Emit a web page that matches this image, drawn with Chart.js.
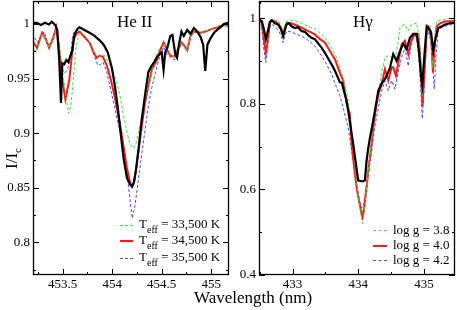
<!DOCTYPE html>
<html><head><meta charset="utf-8">
<script src="https://cdn.jsdelivr.net/npm/chart.js@4"></script>
<style>
html,body{margin:0;padding:0;background:#fff;}
body{width:457px;height:310px;position:relative;overflow:hidden;font-family:"Liberation Serif","Times New Roman",serif;color:#000;}
canvas{position:absolute;top:0;}
.t{position:absolute;white-space:nowrap;line-height:17px;}
.sub{font-size:10px;position:relative;top:5px;}
.smp{position:absolute;height:0;}
</style>
</head><body>
<canvas id="c1" width="232" height="310" style="left:0"></canvas>
<canvas id="c2" width="225" height="310" style="left:232px"></canvas>
<div class="t" style="left:117px;top:13px;font-size:17px">He II</div>
<div class="t" style="left:353px;top:13px;font-size:17px">Hγ</div>
<div class="t" style="left:194px;top:289px;font-size:17px">Wavelength (nm)</div>
<div class="t" style="left:-4px;top:146px;font-size:17px;transform:rotate(-90deg);transform-origin:15px 8px;width:30px;">I/I<span class="sub" style="font-size:11px;top:4px">c</span></div>
<div id="legends"></div>
<script>
// ---------- He II panel (left) ----------
const heTicksX = [453.5, 454, 454.5, 455];
const heTickLabelsX = ['453.5', '454', '454.5', '455'];
const heMinorX = [453.25, 453.75, 454.25, 454.75];
const heTicksY = [0.8, 0.85, 0.9, 0.95, 1];
const heTickLabelsY = ['0.8', '0.85', '0.9', '0.95', '1'];
const heMinorY = [0.775, 0.825, 0.875, 0.925, 0.975];

const heObsWave = [453.19,453.24,453.28,453.32,453.36,453.39,453.425,453.445,453.465,453.483,453.496,453.516,453.537,453.557,453.578,453.598,453.618,453.649,453.669,453.72,453.771,453.822,453.873,453.914,453.955,453.996,454.026,454.057,454.088,454.118,454.149,454.18,454.203,454.22,454.24,454.264,454.298,454.332,454.366,454.394,454.424,454.455,454.485,454.50,454.519,454.536,454.557,454.587,454.608,454.623,454.638,454.655,454.674,454.70,454.723,454.758,454.791,454.825,454.86,454.893,454.919,454.94,454.962,454.995,455.03,455.064,455.097,455.128,455.166,455.19];
const heObsFlux = [1.001,1.001,0.999,1.001,0.9995,1.002,0.999,0.9945,0.967,0.9276,0.964,0.963,0.967,0.965,0.971,0.976,0.99,0.9955,0.997,0.9945,0.992,0.989,0.985,0.981,0.974,0.96,0.944,0.923,0.898,0.875,0.859,0.853,0.851,0.855,0.866,0.884,0.912,0.935,0.956,0.961,0.965,0.97,0.973,0.974,0.958,0.974,0.978,0.989,0.99,0.981,0.972,0.969,0.981,0.993,0.989,0.9945,0.991,0.9963,0.993,0.988,0.981,0.957,0.981,0.987,0.992,0.995,0.997,1.0,1.001,1.0];

const he34Wave = [453.19,453.241,453.292,453.323,453.363,453.404,453.435,453.465,453.496,453.527,453.567,453.588,453.608,453.639,453.669,453.72,453.771,453.812,453.843,453.873,453.904,453.945,453.986,454.026,454.077,454.118,454.149,454.18,454.197,454.22,454.24,454.264,454.297,454.332,454.368,454.401,454.452,454.485,454.519,454.557,454.587,454.628,454.659,454.70,454.73,454.758,454.791,454.825,454.893,454.944,454.995,455.064,455.118,455.19];
const he34Flux = [0.985,0.978,0.992,0.987,0.978,0.987,0.997,0.976,0.949,0.931,0.949,0.967,0.985,0.991,0.993,0.988,0.983,0.974,0.969,0.971,0.97,0.962,0.949,0.933,0.909,0.886,0.868,0.855,0.851,0.855,0.866,0.882,0.905,0.928,0.944,0.958,0.967,0.976,0.983,0.976,0.971,0.97,0.976,0.983,0.98,0.976,0.989,0.993,0.992,0.993,0.995,0.997,0.999,0.998];

const he33Wave = [453.19,453.221,453.251,453.292,453.323,453.363,453.404,453.435,453.465,453.496,453.534,453.56,453.583,453.601,453.618,453.635,453.659,453.69,453.741,453.792,453.822,453.853,453.884,453.914,453.955,453.996,454.044,454.077,454.111,454.149,454.18,454.213,454.24,454.264,454.315,454.348,454.384,454.419,454.452,454.485,454.519,454.557,454.587,454.628,454.659,454.70,454.758,454.791,454.825,454.893,454.995,455.118,455.19];
const he33Flux = [0.981,0.974,0.978,0.991,0.987,0.978,0.987,0.996,0.98,0.958,0.933,0.918,0.925,0.942,0.962,0.978,0.99,0.992,0.987,0.981,0.973,0.97,0.971,0.972,0.965,0.96,0.947,0.935,0.918,0.901,0.89,0.886,0.89,0.901,0.921,0.937,0.949,0.962,0.973,0.979,0.982,0.976,0.972,0.97,0.976,0.983,0.976,0.989,0.993,0.992,0.995,0.999,0.998];

const he35Wave = [453.19,453.244,453.282,453.312,453.363,453.394,453.432,453.455,453.48,453.499,453.521,453.547,453.567,453.585,453.601,453.629,453.669,453.72,453.771,453.812,453.856,453.884,453.907,453.945,453.975,454.009,454.057,454.111,454.149,454.18,454.203,454.231,454.264,454.297,454.332,454.368,454.401,454.452,454.485,454.519,454.557,454.587,454.628,454.659,454.70,454.758,454.791,454.825,454.893,454.995,455.118,455.19];
const he35Flux = [0.991,0.983,0.989,0.993,0.979,0.987,0.996,0.985,0.967,0.958,0.955,0.958,0.965,0.976,0.99,0.9945,0.9935,0.989,0.983,0.972,0.962,0.963,0.965,0.956,0.944,0.93,0.91,0.889,0.864,0.839,0.822,0.834,0.857,0.88,0.903,0.926,0.942,0.961,0.972,0.979,0.972,0.969,0.967,0.974,0.982,0.975,0.988,0.993,0.992,0.995,0.999,0.998];

// ---------- H gamma panel (right) ----------
const hgTicksX = [433, 434, 435];
const hgTickLabelsX = ['433', '434', '435'];
const hgMinorX = [432.5, 433.5, 434.5];
const hgTicksY = [0.4, 0.6, 0.8, 1];
const hgTickLabelsY = ['0.4', '0.6', '0.8', '1'];
const hgMinorY = [0.5, 0.7, 0.9];

const hgObsWave = [432.49,432.533,432.563,432.594,432.624,432.655,432.685,432.73,432.78,432.822,432.857,432.883,432.909,432.944,432.985,433.035,433.081,433.137,433.187,433.233,433.289,433.339,433.385,433.441,433.492,433.537,433.594,433.644,433.69,433.72,433.75,433.781,433.822,433.846,433.887,433.922,433.963,433.998,434.04,434.07,434.1,434.126,434.15,434.177,434.215,434.253,434.303,434.355,434.405,434.45,434.481,434.531,434.583,434.633,434.683,434.735,434.785,434.836,434.887,434.922,434.953,434.973,434.998,435.04,435.064,435.105,435.14,435.166,435.216,435.272,435.318,435.394,435.47];
const hgObsFlux = [0.997,0.993,0.975,0.951,0.969,0.991,0.995,0.988,0.985,0.975,0.958,0.972,0.985,0.988,0.981,0.977,0.979,0.97,0.968,0.961,0.954,0.951,0.942,0.931,0.919,0.907,0.892,0.877,0.861,0.85,0.849,0.83,0.807,0.784,0.742,0.707,0.66,0.621,0.619,0.619,0.621,0.667,0.695,0.721,0.751,0.784,0.83,0.847,0.858,0.872,0.884,0.916,0.9,0.923,0.94,0.928,0.954,0.963,0.963,0.923,0.865,0.844,0.9,0.981,0.978,0.968,0.923,0.947,0.977,0.981,0.985,0.988,0.989];

const hg40Wave = [432.49,432.533,432.563,432.594,432.624,432.655,432.685,432.745,432.791,432.83,432.857,432.883,432.913,432.974,433.05,433.137,433.233,433.339,433.416,433.492,433.568,433.644,433.72,433.77,433.822,433.872,433.898,433.933,433.974,434.009,434.04,434.062,434.085,434.126,434.161,434.202,434.237,434.279,434.314,434.355,434.405,434.455,434.507,434.531,434.572,434.618,434.659,434.709,434.76,434.793,434.836,434.912,434.945,434.976,435.006,435.04,435.064,435.105,435.135,435.166,435.192,435.242,435.318,435.47];
const hg40Flux = [0.997,0.988,0.951,0.919,0.951,0.988,0.995,0.991,0.986,0.975,0.962,0.977,0.989,0.988,0.984,0.978,0.97,0.962,0.951,0.943,0.923,0.904,0.872,0.854,0.8,0.777,0.706,0.656,0.605,0.574,0.551,0.536,0.551,0.605,0.656,0.706,0.756,0.8,0.826,0.846,0.881,0.854,0.885,0.885,0.865,0.905,0.939,0.947,0.916,0.942,0.958,0.962,0.9,0.795,0.876,0.97,0.978,0.958,0.873,0.947,0.981,0.988,0.992,0.993];

const hg38Wave = [432.49,432.533,432.563,432.594,432.624,432.655,432.685,432.745,432.791,432.83,432.857,432.883,432.913,432.974,433.05,433.137,433.233,433.339,433.441,433.507,433.594,433.659,433.72,433.781,433.846,433.887,433.933,433.979,434.017,434.047,434.065,434.085,434.123,434.161,434.202,434.245,434.29,434.355,434.405,434.455,434.507,434.557,434.603,434.633,434.68,434.709,434.754,434.8,434.887,434.93,434.973,435.006,435.055,435.09,435.131,435.158,435.192,435.318,435.47];
const hg38Flux = [0.997,0.991,0.963,0.939,0.963,0.993,0.998,0.995,0.993,0.981,0.97,0.984,0.993,0.995,0.993,0.988,0.981,0.975,0.962,0.951,0.931,0.912,0.885,0.854,0.807,0.749,0.679,0.609,0.563,0.533,0.52,0.54,0.598,0.656,0.714,0.772,0.816,0.872,0.908,0.912,0.909,0.904,0.942,0.978,0.984,0.985,0.97,0.984,0.989,0.947,0.819,0.912,0.985,0.984,0.885,0.947,0.993,0.997,1.0];

const hg42Wave = [432.49,432.533,432.563,432.594,432.624,432.655,432.685,432.745,432.791,432.83,432.857,432.883,432.913,432.974,433.05,433.137,433.233,433.339,433.441,433.507,433.594,433.659,433.72,433.781,433.846,433.887,433.933,433.979,434.017,434.05,434.078,434.116,434.161,434.207,434.253,434.298,434.355,434.405,434.455,434.507,434.557,434.603,434.659,434.709,434.76,434.8,434.836,434.887,434.93,434.973,435.006,435.04,435.064,435.105,435.155,435.181,435.216,435.318,435.47];
const hg42Flux = [0.989,0.975,0.928,0.896,0.935,0.979,0.985,0.979,0.97,0.956,0.943,0.958,0.97,0.968,0.963,0.958,0.949,0.935,0.912,0.895,0.869,0.842,0.819,0.784,0.745,0.702,0.656,0.609,0.574,0.556,0.563,0.598,0.644,0.695,0.749,0.784,0.83,0.854,0.83,0.854,0.834,0.872,0.908,0.931,0.888,0.935,0.954,0.958,0.888,0.765,0.854,0.958,0.966,0.947,0.834,0.912,0.974,0.981,0.987];

const heLegend = ['33,500', '34,500', '35,500'];
const hgLegend = ['3.8', '4.0', '4.2'];

const COL_GREEN = '#3ce43c', COL_RED = '#ff1a1a', COL_BLUE = '#4646ff';

function pts(w, f) { const n = Math.min(w.length, f.length); const o = []; for (let i = 0; i < n; i++) o.push({x: w[i], y: f[i]}); return o; }
function ds(w, f, color, width, dash) {
  return {data: pts(w, f), borderColor: color, borderWidth: width, borderDash: dash || [], showLine: true, pointRadius: 0, tension: 0, fill: false};
}

const framePlugin = {
  id: 'frame',
  afterDatasetsDraw(chart, args, o) {
    const {ctx, chartArea: a} = chart; const sx = chart.scales.x, sy = chart.scales.y;
    ctx.save(); ctx.strokeStyle = '#000'; ctx.lineWidth = 1; ctx.beginPath();
    const tx = (vals, len) => vals.forEach(v => { const p = Math.round(sx.getPixelForValue(v)) + 0.5; ctx.moveTo(p, a.bottom); ctx.lineTo(p, a.bottom - len); ctx.moveTo(p, a.top); ctx.lineTo(p, a.top + len); });
    const ty = (vals, len) => vals.forEach(v => { const p = Math.round(sy.getPixelForValue(v)) + 0.5; ctx.moveTo(a.left, p); ctx.lineTo(a.left + len, p); ctx.moveTo(a.right, p); ctx.lineTo(a.right - len, p); });
    tx(o.majX, 6); tx(o.minX, 3); ty(o.majY, 6); ty(o.minY, 3);
    ctx.stroke();
    ctx.lineWidth = 1.3;
    ctx.strokeRect(Math.round(a.left) + 0.5, Math.round(a.top) + 0.5, Math.round(a.right - a.left) - 1, Math.round(a.bottom - a.top) - 1);
    ctx.restore();
  }
};

const tickFont = {family: '"Liberation Serif", "Times New Roman", serif', size: 13};

function makeChart(id, datasets, xr, yr, tX, lX, mX, tY, lY, mY, yWidth, padRight) {
  return new Chart(document.getElementById(id), {
    type: 'scatter',
    data: {datasets},
    plugins: [framePlugin],
    options: {
      responsive: false, animation: false, devicePixelRatio: 1,
      layout: {padding: {top: 1, right: padRight, left: 0, bottom: 0}},
      plugins: {legend: {display: false}, tooltip: {enabled: false}, frame: {majX: tX, minX: mX, majY: tY, minY: mY}},
      scales: {
        x: {type: 'linear', min: xr[0], max: xr[1],
          afterBuildTicks: s => { s.ticks = tX.map(v => ({value: v})); },
          afterFit: s => { s.height = 35; s.paddingLeft = 0; s.paddingRight = 0; },
          ticks: {callback: (v, i) => lX[i], font: tickFont, color: '#000', padding: 2, maxRotation: 0, autoSkip: false},
          grid: {display: false, drawTicks: false}, border: {display: false}},
        y: {type: 'linear', min: yr[0], max: yr[1],
          afterBuildTicks: s => { s.ticks = tY.map(v => ({value: v})); },
          afterFit: s => { s.width = yWidth; s.paddingTop = 0; s.paddingBottom = 0; },
          ticks: {callback: (v, i) => lY[i], font: tickFont, color: '#000', padding: 3, autoSkip: false},
          grid: {display: false, drawTicks: false}, border: {display: false}}
      }
    }
  });
}

makeChart('c1', [
  ds(heObsWave, heObsFlux, '#000', 2.2),
  ds(he33Wave, he33Flux, COL_GREEN, 1, [3, 2]),
  ds(he34Wave, he34Flux, COL_RED, 2),
  ds(he35Wave, he35Flux, COL_BLUE, 1, [3, 2])
], [453.2, 455.18], [0.77, 1.021], heTicksX, heTickLabelsX, heMinorX, heTicksY, heTickLabelsY, heMinorY, 33, 3);

makeChart('c2', [
  ds(hgObsWave, hgObsFlux, '#000', 2.2),
  ds(hg38Wave, hg38Flux, COL_GREEN, 1, [3, 2]),
  ds(hg40Wave, hg40Flux, COL_RED, 2),
  ds(hg42Wave, hg42Flux, COL_BLUE, 1, [3, 2])
], [432.49, 435.47], [0.4, 1.04], hgTicksX, hgTickLabelsX, hgMinorX, hgTicksY, hgTickLabelsY, hgMinorY, 27, 2);

// legends
const L = document.getElementById('legends');
const styles = [
  {c: COL_GREEN, w: 1, dash: true}, {c: COL_RED, w: 2, dash: false}, {c: COL_BLUE, w: 1, dash: true}
];
function sample(x, y, w, s) {
  const d = document.createElement('div'); d.className = 'smp';
  d.style.left = x + 'px'; d.style.width = w + 'px';
  d.style.top = (y - s.w / 2) + 'px';
  d.style.borderTop = s.w + 'px ' + (s.dash ? 'dashed ' : 'solid ') + s.c;
  L.appendChild(d);
}
function text(x, baseline, html) {
  const d = document.createElement('div'); d.className = 't';
  d.style.fontSize = '13px'; d.style.lineHeight = '13px';
  d.style.left = x + 'px'; d.style.top = (baseline - 10.9) + 'px';
  d.innerHTML = html; L.appendChild(d);
}
const heSampleY = [225.7, 241, 258.5], heBase = [227.5, 244, 261];
heLegend.forEach((t, i) => { sample(120, heSampleY[i], 13, styles[i]); text(139, heBase[i], 'T<span class="sub">eff</span> = ' + t + ' K'); });
const hgSampleY = [230, 245.5, 260], hgBase = [233.5, 248.7, 264];
hgLegend.forEach((t, i) => { sample(373, hgSampleY[i], 14, styles[i]); text(393, hgBase[i], 'log g = ' + t); });
</script>
</body></html>
